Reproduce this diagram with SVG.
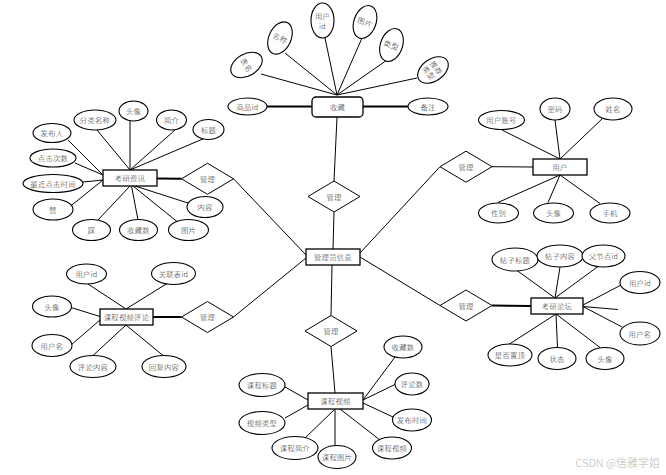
<svg xmlns="http://www.w3.org/2000/svg" width="666" height="475" viewBox="0 0 666 475">
<style>
.e{fill:#fff;stroke:#000;stroke-width:1.1}
.r{fill:#fff;stroke:#000;stroke-width:1.3}
.d{fill:#fff;stroke:#000;stroke-width:1}
.l{stroke:#000;stroke-width:1;fill:none}
.lt{stroke:#000;stroke-width:2;fill:none}
text{font-family:"Noto Sans CJK SC","Noto Sans",sans-serif;font-size:7.3px;font-weight:300;letter-spacing:0.3px;fill:#333;text-anchor:middle;dominant-baseline:central}
.wm{font-size:11px;fill:#b8b8b8;text-anchor:end;letter-spacing:0}
</style>
<rect width="666" height="475" fill="#fff"/>
<g id="connectors">
<line class="l" x1="337" y1="95" x2="261" y2="74"/>
<line class="l" x1="337" y1="95" x2="285" y2="53"/>
<line class="l" x1="337" y1="95" x2="325" y2="38"/>
<line class="l" x1="337" y1="95" x2="362" y2="38"/>
<line class="l" x1="337" y1="95" x2="387" y2="60"/>
<line class="l" x1="337" y1="95" x2="417" y2="78"/>
<line class="lt" x1="267" y1="106.5" x2="312" y2="106.5"/>
<line class="lt" x1="363" y1="106.5" x2="408" y2="106.5"/>
<line class="l" x1="337" y1="117" x2="334" y2="181"/>
<line class="l" x1="334" y1="212" x2="333" y2="249"/>
<line class="l" x1="233.5" y1="178.8" x2="306" y2="255"/>
<line class="l" x1="440" y1="166.7" x2="360" y2="253"/>
<line class="l" x1="233.5" y1="317" x2="306" y2="258"/>
<line class="l" x1="440" y1="305.5" x2="360" y2="257"/>
<line class="l" x1="332" y1="265" x2="331" y2="315.5"/>
<line class="l" x1="331" y1="346.5" x2="335" y2="393"/>
<line class="lt" x1="157" y1="178.5" x2="181.5" y2="178.8"/>
<line class="l" x1="533" y1="167" x2="492" y2="166.7"/>
<line class="lt" x1="153" y1="317" x2="181.5" y2="317"/>
<line class="lt" x1="492" y1="305.5" x2="531" y2="306"/>
<line class="l" x1="68" y1="140" x2="103" y2="175"/>
<line class="l" x1="97" y1="130" x2="130" y2="170"/>
<line class="l" x1="130" y1="121" x2="130" y2="170"/>
<line class="l" x1="175" y1="130" x2="130" y2="170"/>
<line class="l" x1="205" y1="138" x2="130" y2="170"/>
<line class="l" x1="75" y1="163" x2="103" y2="175"/>
<line class="l" x1="83" y1="182" x2="103" y2="180"/>
<line class="l" x1="70" y1="206.5" x2="103" y2="180"/>
<line class="l" x1="98" y1="220" x2="130" y2="186"/>
<line class="l" x1="138" y1="220" x2="131.5" y2="186"/>
<line class="l" x1="177" y1="221.5" x2="133" y2="186"/>
<line class="l" x1="188" y1="203" x2="135" y2="186"/>
<line class="l" x1="502" y1="130" x2="560" y2="159"/>
<line class="l" x1="555" y1="120" x2="560" y2="159"/>
<line class="l" x1="603" y1="118" x2="560" y2="159"/>
<line class="l" x1="498" y1="202.5" x2="560" y2="175"/>
<line class="l" x1="548" y1="202.5" x2="560" y2="175"/>
<line class="l" x1="600" y1="203.5" x2="560" y2="175"/>
<line class="l" x1="88" y1="284" x2="126" y2="309"/>
<line class="l" x1="167" y1="283.5" x2="126" y2="309"/>
<line class="l" x1="71" y1="307.5" x2="100" y2="316.5"/>
<line class="l" x1="71" y1="345" x2="100" y2="320"/>
<line class="l" x1="93" y1="355.5" x2="126" y2="325"/>
<line class="l" x1="163" y1="355.5" x2="126" y2="325"/>
<line class="l" x1="517" y1="270.5" x2="555" y2="298"/>
<line class="l" x1="560" y1="267" x2="555" y2="298"/>
<line class="l" x1="598" y1="266.5" x2="555" y2="298"/>
<line class="l" x1="621" y1="285" x2="583" y2="305"/>
<line class="l" x1="583" y1="306.5" x2="618" y2="309.5"/>
<line class="l" x1="622" y1="327" x2="583" y2="306.5"/>
<line class="l" x1="508" y1="345" x2="556" y2="314"/>
<line class="l" x1="557.5" y1="347.5" x2="556" y2="314"/>
<line class="l" x1="600" y1="347.5" x2="556" y2="314"/>
<line class="l" x1="285" y1="387" x2="308" y2="400"/>
<line class="l" x1="285" y1="418" x2="308" y2="405"/>
<line class="l" x1="303" y1="440" x2="335" y2="409"/>
<line class="l" x1="335" y1="409" x2="335" y2="446"/>
<line class="l" x1="340" y1="409" x2="380" y2="440"/>
<line class="l" x1="363" y1="400" x2="395" y2="357"/>
<line class="l" x1="363" y1="400" x2="398" y2="383"/>
<line class="l" x1="363" y1="403" x2="393" y2="417"/>
</g>

<g id="收藏">
<rect class="r" x="312" y="97" width="51" height="20" rx="4"/>
<text x="337.5" y="107">收藏</text>
</g>
<g id="收藏-表名"><g transform="translate(246.5,65) rotate(60)"><ellipse class="e" rx="11" ry="17"/><text>表名</text></g></g>
<g id="收藏-名称"><g transform="translate(280,38) rotate(25)"><ellipse class="e" rx="11" ry="17"/><text>名称</text></g></g>
<g id="收藏-用户id"><ellipse class="e" cx="322.5" cy="20.5" rx="11.5" ry="17.5"/><text x="322.5" y="16">用户</text><text x="322.5" y="26">id</text></g>
<g id="收藏-图片"><g transform="translate(365,22) rotate(20)"><ellipse class="e" rx="11" ry="17"/><text>图片</text></g></g>
<g id="收藏-类型"><g transform="translate(391.5,45) rotate(20)"><ellipse class="e" rx="11" ry="17"/><text>类型</text></g></g>
<g id="收藏-推荐类型"><g transform="translate(433,70) rotate(55)"><ellipse class="e" rx="11" ry="17"/><text y="-4">推荐</text><text y="5">类型</text></g></g>
<g id="收藏-商品id"><ellipse class="e" cx="247.5" cy="106.5" rx="19.5" ry="8.5"/><text x="247.5" y="106.5">商品id</text></g>
<g id="收藏-备注"><ellipse class="e" cx="428" cy="106.5" rx="20" ry="8.5"/><text x="428" y="106.5">备注</text></g>

<g id="管理员信息"><rect class="r" x="306" y="249" width="54" height="16"/><text x="333" y="257">管理员信息</text></g>

<g id="管理1"><polygon class="d" points="181.5,178.8 207.5,163.3 233.5,178.8 207.5,194.3"/><text x="207.5" y="178.8">管理</text></g>
<g id="管理2"><polygon class="d" points="308,196.5 334,181 360,196.5 334,212"/><text x="334" y="196.5">管理</text></g>
<g id="管理3"><polygon class="d" points="440,166.7 466,151.2 492,166.7 466,182.2"/><text x="466" y="166.7">管理</text></g>
<g id="管理4"><polygon class="d" points="181.5,317 207.5,301.5 233.5,317 207.5,332.5"/><text x="207.5" y="317">管理</text></g>
<g id="管理5"><polygon class="d" points="440,305.5 466,290 492,305.5 466,321"/><text x="466" y="305.5">管理</text></g>
<g id="管理6"><polygon class="d" points="305,331 331,315.5 357,331 331,346.5"/><text x="331" y="331">管理</text></g>

<g id="考研资讯"><rect class="r" x="103" y="170" width="54" height="16"/><text x="130" y="178">考研资讯</text></g>
<g id="zx-发布人"><ellipse class="e" cx="52" cy="133" rx="19" ry="9.5"/><text x="52" y="133">发布人</text></g>
<g id="zx-分类名称"><ellipse class="e" cx="95" cy="120" rx="21" ry="10"/><text x="95" y="120">分类名称</text></g>
<g id="zx-头像"><ellipse class="e" cx="133.5" cy="111" rx="14.5" ry="10"/><text x="133.5" y="111">头像</text></g>
<g id="zx-简介"><ellipse class="e" cx="171.5" cy="120" rx="15" ry="10"/><text x="171.5" y="120">简介</text></g>
<g id="zx-标题"><ellipse class="e" cx="208.5" cy="129.5" rx="15.5" ry="10"/><text x="208.5" y="129.5">标题</text></g>
<g id="zx-点击次数"><ellipse class="e" cx="53" cy="158" rx="23" ry="9"/><text x="53" y="158">点击次数</text></g>
<g id="zx-最近点击时间"><ellipse class="e" cx="53" cy="183.5" rx="30" ry="9"/><text x="53" y="183.5">最近点击时间</text></g>
<g id="zx-赞"><ellipse class="e" cx="53" cy="209.5" rx="20" ry="10.5"/><text x="53" y="209.5">赞</text></g>
<g id="zx-踩"><ellipse class="e" cx="91.5" cy="230" rx="19" ry="10.5"/><text x="91.5" y="230">踩</text></g>
<g id="zx-收藏数"><ellipse class="e" cx="138.5" cy="230" rx="19" ry="10.5"/><text x="138.5" y="230">收藏数</text></g>
<g id="zx-图片"><ellipse class="e" cx="188.5" cy="230" rx="20" ry="10.5"/><text x="188.5" y="230">图片</text></g>
<g id="zx-内容"><ellipse class="e" cx="205" cy="207" rx="18" ry="10.5"/><text x="205" y="207">内容</text></g>

<g id="用户"><rect class="r" x="533" y="159" width="54" height="16"/><text x="560" y="167">用户</text></g>
<g id="yh-用户账号"><ellipse class="e" cx="501.5" cy="120" rx="23" ry="9.5"/><text x="501.5" y="120">用户账号</text></g>
<g id="yh-密码"><ellipse class="e" cx="555" cy="109" rx="15" ry="11"/><text x="555" y="109">密码</text></g>
<g id="yh-姓名"><ellipse class="e" cx="613" cy="109" rx="19" ry="11"/><text x="613" y="109">姓名</text></g>
<g id="yh-性别"><ellipse class="e" cx="498.5" cy="213" rx="20" ry="10"/><text x="498.5" y="213">性别</text></g>
<g id="yh-头像"><ellipse class="e" cx="553.5" cy="213" rx="20" ry="10"/><text x="553.5" y="213">头像</text></g>
<g id="yh-手机"><ellipse class="e" cx="610" cy="213" rx="20" ry="10"/><text x="610" y="213">手机</text></g>

<g id="课程视频评论"><rect class="r" x="100" y="309" width="53" height="16"/><text x="126.5" y="317">课程视频评论</text></g>
<g id="pl-用户id"><ellipse class="e" cx="86.5" cy="274" rx="20" ry="10"/><text x="86.5" y="274">用户id</text></g>
<g id="pl-关联表id"><ellipse class="e" cx="173.5" cy="273.5" rx="22" ry="11"/><text x="173.5" y="273.5">关联表id</text></g>
<g id="pl-头像"><ellipse class="e" cx="52" cy="306.5" rx="19.5" ry="10.5"/><text x="52" y="306.5">头像</text></g>
<g id="pl-用户名"><ellipse class="e" cx="52" cy="345.5" rx="20" ry="11"/><text x="52" y="345.5">用户名</text></g>
<g id="pl-评论内容"><ellipse class="e" cx="93" cy="366.5" rx="23" ry="11"/><text x="93" y="366.5">评论内容</text></g>
<g id="pl-回复内容"><ellipse class="e" cx="164" cy="366.5" rx="22" ry="11"/><text x="164" y="366.5">回复内容</text></g>

<g id="考研论坛"><rect class="r" x="531" y="298" width="52" height="16"/><text x="557" y="306">考研论坛</text></g>
<g id="lt-帖子标题"><ellipse class="e" cx="515" cy="259.5" rx="23" ry="11.5"/><text x="515" y="259.5">帖子标题</text></g>
<g id="lt-帖子内容"><ellipse class="e" cx="560" cy="256" rx="23" ry="11"/><text x="560" y="256">帖子内容</text></g>
<g id="lt-父节点id"><ellipse class="e" cx="603.5" cy="256" rx="21.5" ry="11"/><text x="603.5" y="256">父节点id</text></g>
<g id="lt-用户id"><ellipse class="e" cx="640" cy="282.5" rx="20" ry="11"/><text x="640" y="282.5">用户id</text></g>
<g id="lt-用户名"><ellipse class="e" cx="640" cy="333.5" rx="20" ry="11.5"/><text x="640" y="333.5">用户名</text></g>
<g id="lt-是否置顶"><ellipse class="e" cx="510" cy="355" rx="22" ry="11"/><text x="510" y="355">是否置顶</text></g>
<g id="lt-状态"><ellipse class="e" cx="557" cy="358.5" rx="19" ry="11"/><text x="557" y="358.5">状态</text></g>
<g id="lt-头像"><ellipse class="e" cx="605" cy="358.5" rx="19" ry="11"/><text x="605" y="358.5">头像</text></g>

<g id="课程视频"><rect class="r" x="308" y="393" width="55" height="16"/><text x="335.5" y="401">课程视频</text></g>
<g id="sp-收藏数"><ellipse class="e" cx="403" cy="347" rx="19" ry="11"/><text x="403" y="347">收藏数</text></g>
<g id="sp-评论数"><ellipse class="e" cx="412" cy="384" rx="17" ry="11"/><text x="412" y="384">评论数</text></g>
<g id="sp-发布时间"><ellipse class="e" cx="412" cy="420" rx="19.5" ry="11"/><text x="412" y="420">发布时间</text></g>
<g id="sp-课程视频"><ellipse class="e" cx="392" cy="448" rx="19.5" ry="11"/><text x="392" y="448">课程视频</text></g>
<g id="sp-课程图片"><ellipse class="e" cx="337" cy="457" rx="19" ry="11.5"/><text x="337" y="457">课程图片</text></g>
<g id="sp-课程简介"><ellipse class="e" cx="295" cy="448" rx="23" ry="11.5"/><text x="295" y="448">课程简介</text></g>
<g id="sp-视频类型"><ellipse class="e" cx="262" cy="423" rx="23" ry="11.5"/><text x="262" y="423">视频类型</text></g>
<g id="sp-课程标题"><ellipse class="e" cx="262" cy="385" rx="23" ry="11.5"/><text x="262" y="385">课程标题</text></g>

<text class="wm" x="660" y="462">CSDN @信雅学姐</text>
</svg>
